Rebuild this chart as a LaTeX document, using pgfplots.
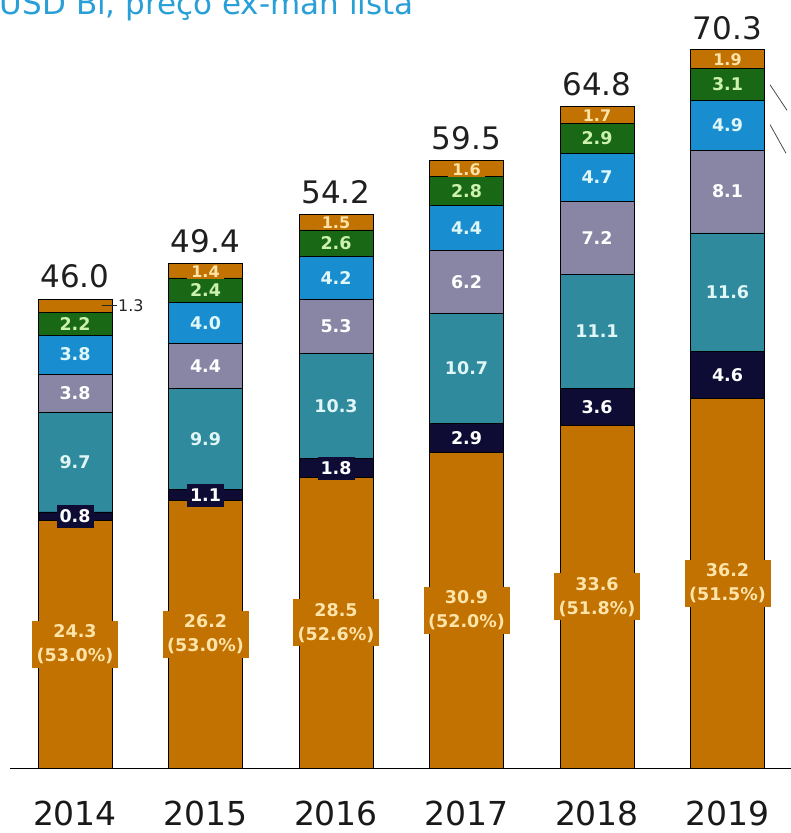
\documentclass[border=0pt]{standalone}
\usepackage{fontspec}
\setmainfont{DejaVu Sans}
\newfontfamily\labfont{DejaVu Sans Bold}
\usepackage{pgfplots}
\pgfplotsset{compat=1.18}
\definecolor{cOr}{RGB}{193,114,0}
\definecolor{cNv}{RGB}{14,12,52}
\definecolor{cTl}{RGB}{46,138,156}
\definecolor{cLv}{RGB}{136,133,165}
\definecolor{cBl}{RGB}{24,142,208}
\definecolor{cGr}{RGB}{24,104,22}
\definecolor{tOr}{RGB}{255,228,170}
\definecolor{tGr}{RGB}{205,242,175}
\definecolor{tTl}{RGB}{225,246,246}
\definecolor{cTitle}{RGB}{40,160,215}
\tikzset{
  seg/.style={font=\labfont\fontsize{17.5}{20}\selectfont, inner sep=0pt},
  olab/.style={fill=cOr, text=tOr, align=center, minimum width=86pt, minimum height=47pt, inner sep=0pt, font=\labfont\fontsize{17.5}{24}\selectfont},
  nlab/.style={fill=cNv, text=white, inner xsep=3pt, minimum height=23pt, inner ysep=0pt, font=\labfont\fontsize{17.5}{20}\selectfont},
  tlab/.style={fill=cOr, text=tOr, inner xsep=4pt, inner ysep=1.5pt, font=\labfont\fontsize{16}{18}\selectfont},
  tot/.style={font=\fontsize{31}{36}\selectfont, text=black!88, anchor=base, inner sep=0pt, yshift=11pt},
}
\pgfplotsset{base/.style={scale only axis, width=783pt, height=766.5pt,
  xmin=-0.5, xmax=5.5, ymin=0, ymax=75, enlargelimits=false, clip=false}}
\begin{document}
\begin{tikzpicture}
\begin{axis}[
  base,
  ybar stacked, bar width=74pt,
  axis x line=bottom, axis y line=none,
  axis line style={-, black, line width=1pt},
  xtick={0,1,2,3,4,5}, xticklabels={2014,2015,2016,2017,2018,2019},
  major tick length=0pt,
  xticklabel style={font=\fontsize{33}{40}\selectfont, text=black!90, anchor=base, yshift=-57pt, inner sep=0pt},
  every axis plot/.append style={draw=black, line width=0.8pt},
]
\addplot[fill=cOr] coordinates {(0,24.3) (1,26.2) (2,28.5) (3,30.9) (4,33.6) (5,36.2)};
\addplot[fill=cNv] coordinates {(0,0.8) (1,1.1) (2,1.8) (3,2.9) (4,3.6) (5,4.6)};
\addplot[fill=cTl] coordinates {(0,9.7) (1,9.9) (2,10.3) (3,10.7) (4,11.1) (5,11.6)};
\addplot[fill=cLv] coordinates {(0,3.8) (1,4.4) (2,5.3) (3,6.2) (4,7.2) (5,8.1)};
\addplot[fill=cBl] coordinates {(0,3.8) (1,4.0) (2,4.2) (3,4.4) (4,4.7) (5,4.9)};
\addplot[fill=cGr] coordinates {(0,2.2) (1,2.4) (2,2.6) (3,2.8) (4,2.9) (5,3.1)};
\addplot[fill=cOr] coordinates {(0,1.3) (1,1.4) (2,1.5) (3,1.6) (4,1.7) (5,1.9)};
\end{axis}
\begin{axis}[base, hide axis]
% 2014
\node[olab] at (axis cs:0,12.15) {24.3\\(53.0\%)};
\node[nlab] at (axis cs:0,24.7) {0.8};
\node[seg,text=tTl] at (axis cs:0,29.95) {9.7};
\node[seg,text=white] at (axis cs:0,36.7) {3.8};
\node[seg,text=tTl] at (axis cs:0,40.5) {3.8};
\node[seg,text=tGr] at (axis cs:0,43.5) {2.2};
\draw[black!85, line width=0.8pt] (axis cs:0.207,45.3) -- (axis cs:0.322,45.3);
\node[font=\fontsize{16}{20}\selectfont, text=black!85, anchor=west, inner sep=1pt] at (axis cs:0.322,45.3) {1.3};
\node[tot] at (axis cs:0,46.0) {46.0};
% 2015
\node[olab] at (axis cs:1,13.1) {26.2\\(53.0\%)};
\node[nlab] at (axis cs:1,26.75) {1.1};
\node[seg,text=tTl] at (axis cs:1,32.25) {9.9};
\node[seg,text=white] at (axis cs:1,39.4) {4.4};
\node[seg,text=tTl] at (axis cs:1,43.6) {4.0};
\node[seg,text=tGr] at (axis cs:1,46.8) {2.4};
\node[tlab] at (axis cs:1,48.6) {1.4};
\node[tot] at (axis cs:1,49.4) {49.4};
% 2016
\node[olab] at (axis cs:2,14.25) {28.5\\(52.6\%)};
\node[nlab] at (axis cs:2,29.4) {1.8};
\node[seg,text=tTl] at (axis cs:2,35.45) {10.3};
\node[seg,text=white] at (axis cs:2,43.25) {5.3};
\node[seg,text=tTl] at (axis cs:2,48.0) {4.2};
\node[seg,text=tGr] at (axis cs:2,51.4) {2.6};
\node[tlab] at (axis cs:2,53.4) {1.5};
\node[tot] at (axis cs:2,54.2) {54.2};
% 2017
\node[olab] at (axis cs:3,15.45) {30.9\\(52.0\%)};
\node[nlab] at (axis cs:3,32.35) {2.9};
\node[seg,text=tTl] at (axis cs:3,39.15) {10.7};
\node[seg,text=white] at (axis cs:3,47.6) {6.2};
\node[seg,text=tTl] at (axis cs:3,52.9) {4.4};
\node[seg,text=tGr] at (axis cs:3,56.5) {2.8};
\node[tlab] at (axis cs:3,58.6) {1.6};
\node[tot] at (axis cs:3,59.5) {59.5};
% 2018
\node[olab] at (axis cs:4,16.8) {33.6\\(51.8\%)};
\node[nlab] at (axis cs:4,35.4) {3.6};
\node[seg,text=tTl] at (axis cs:4,42.75) {11.1};
\node[seg,text=white] at (axis cs:4,51.9) {7.2};
\node[seg,text=tTl] at (axis cs:4,57.85) {4.7};
\node[seg,text=tGr] at (axis cs:4,61.65) {2.9};
\node[tlab] at (axis cs:4,63.9) {1.7};
\node[tot] at (axis cs:4,64.8) {64.8};
% 2019
\node[olab] at (axis cs:5,18.1) {36.2\\(51.5\%)};
\node[nlab] at (axis cs:5,38.5) {4.6};
\node[seg,text=tTl] at (axis cs:5,46.6) {11.6};
\node[seg,text=white] at (axis cs:5,56.45) {8.1};
\node[seg,text=tTl] at (axis cs:5,62.95) {4.9};
\node[seg,text=tGr] at (axis cs:5,66.95) {3.1};
\node[tlab] at (axis cs:5,69.4) {1.9};
\node[tot] at (axis cs:5,70.3) {70.3};
% leader lines at right edge
\draw[black!70, line width=0.8pt] (axis cs:5.326,66.9) -- (axis cs:5.456,64.4);
\draw[black!70, line width=0.8pt] (axis cs:5.326,63.0) -- (axis cs:5.448,60.2);
\end{axis}
\node[anchor=base west, inner sep=0pt, text=cTitle, font=\fontsize{31}{36}\selectfont] at (-10pt,753.5pt) {USD Bi, preço ex-man lista};
\pgfresetboundingbox
\path[use as bounding box] (-9.75pt,-64.5pt) rectangle (781.25pt,768.5pt);
\end{tikzpicture}
\end{document}
